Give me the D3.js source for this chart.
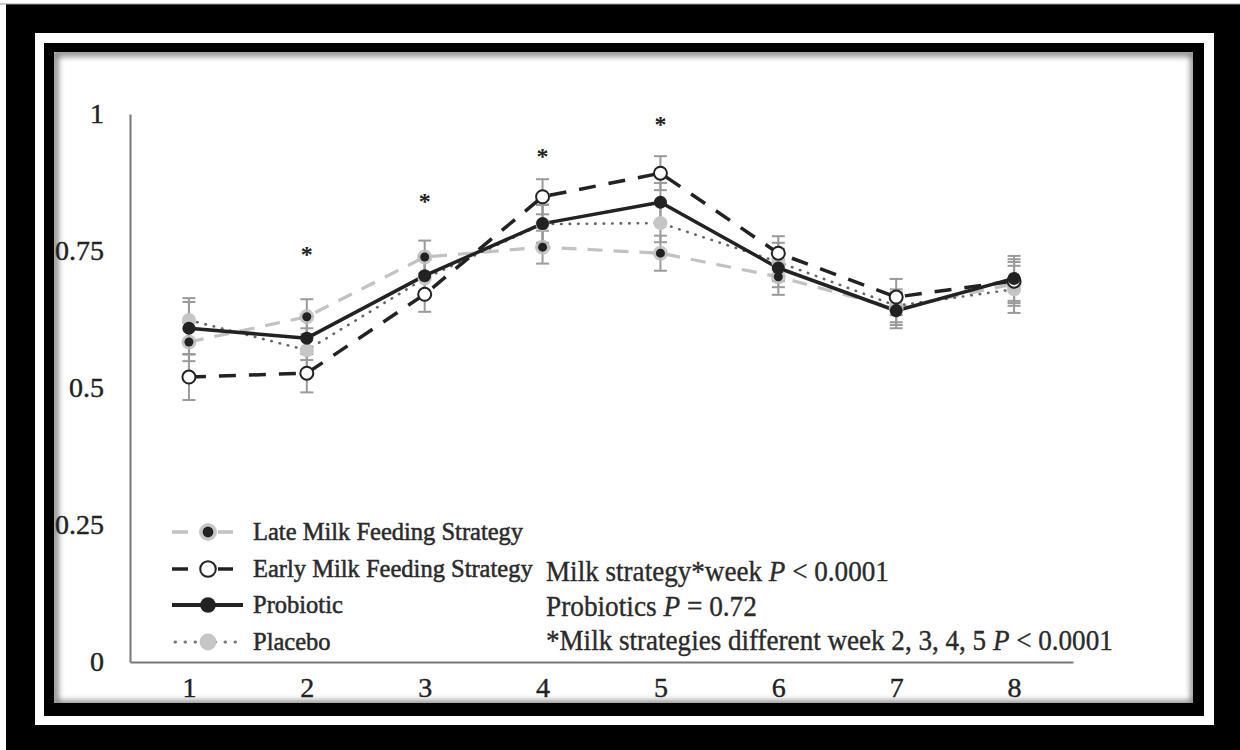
<!DOCTYPE html>
<html>
<head>
<meta charset="utf-8">
<script src="https://cdn.jsdelivr.net/npm/d3@7"></script>
<style>
  body { margin: 0; background: #fff; }
  text { font-family: "Liberation Serif", "Times New Roman", serif; }
</style>
</head>
<body>
<div id="chart"></div>
<script>
// datos
const weeks = [1, 2, 3, 4, 5, 6, 7, 8];
const lateMilk = [0.584, 0.630, 0.739, 0.757, 0.746, 0.703, 0.645, 0.690];
const earlyMilk = [0.520, 0.527, 0.671, 0.849, 0.892, 0.746, 0.666, 0.695];
const probiotic = [0.609, 0.591, 0.705, 0.800, 0.839, 0.719, 0.641, 0.700];
const placebo = [0.624, 0.569, 0.700, 0.799, 0.801, 0.730, 0.650, 0.680];

const lateErr = [0.035, 0.032, 0.030, 0.030, 0.032, 0.033, 0.030, 0.040];
const earlyErr = [0.042, 0.035, 0.032, 0.032, 0.031, 0.031, 0.033, 0.040];
const probErr = [0.048, 0.040, 0.035, 0.035, 0.035, 0.035, 0.032, 0.041];
const placErr = [0.040, 0.040, 0.035, 0.035, 0.035, 0.035, 0.030, 0.043];

const yTicks = [0, 0.25, 0.5, 0.75, 1];
const sigWeeks = [2, 3, 4, 5];
const sigLevel = [0.748, 0.845, 0.927, 0.985];

const legendNames = ["Late Milk Feeding Strategy", "Early Milk Feeding Strategy", "Probiotic", "Placebo"];
const notes = [
  ["Milk strategy*week ", "P", " < 0.0001"],
  ["Probiotics ", "P", " = 0.72"],
  ["*Milk strategies different week 2, 3, 4, 5 ", "P", " < 0.0001"]
];

const W = 1240, H = 750;

const svg = d3.select("#chart").append("svg")
  .attr("width", W).attr("height", H);

// ---------- marco ----------
const defs = svg.append("defs");
defs.append("clipPath").attr("id", "innerClip")
  .append("rect").attr("x", 54).attr("y", 52).attr("width", 1139).attr("height", 651);
defs.append("filter").attr("id", "blur").attr("x", "-10%").attr("y", "-10%")
  .attr("width", "120%").attr("height", "120%")
  .append("feGaussianBlur").attr("stdDeviation", 3);

svg.append("rect").attr("width", W).attr("height", H).attr("fill", "#fff");
svg.append("rect").attr("x", 6).attr("y", 4).attr("width", W - 6).attr("height", H - 4).attr("fill", "#000");
svg.append("line").attr("x1", 0).attr("x2", W).attr("y1", 4).attr("y2", 4).attr("stroke", "#999").attr("stroke-width", 1);
svg.append("rect").attr("x", 35).attr("y", 33).attr("width", 1179).attr("height", 692).attr("fill", "#fff");
svg.append("rect").attr("x", 44).attr("y", 43).attr("width", 1160).attr("height", 673).attr("fill", "#000");
svg.append("rect").attr("x", 54).attr("y", 52).attr("width", 1139).attr("height", 651).attr("fill", "#fff");
svg.append("g").attr("clip-path", "url(#innerClip)")
  .append("rect").attr("x", 55).attr("y", 53).attr("width", 1139).attr("height", 651)
  .attr("fill", "none").attr("stroke", "#000").attr("stroke-width", 6)
  .attr("opacity", 0.55).attr("filter", "url(#blur)");

// ---------- escalas ----------
const x = d3.scalePoint().domain(weeks).range([130, 1073]).padding(0.5);
const y = d3.scaleLinear().domain([0, 1]).range([662, 114]);

const yAxis = svg.append("g").attr("transform", "translate(130,0)")
  .call(d3.axisLeft(y).tickValues(yTicks).tickSize(0).tickPadding(26).tickFormat(d => String(d)));
const xAxis = svg.append("g").attr("transform", "translate(0,662)")
  .call(d3.axisBottom(x).tickSize(0).tickPadding(15));

[yAxis, xAxis].forEach(g => {
  g.attr("font-family", null);
  g.select(".domain").attr("stroke", "#777").attr("stroke-width", 2);
  g.selectAll("text").attr("font-size", 28).attr("fill", "#222")
    .attr("stroke", "#222").attr("stroke-width", 0.4);
});

// ---------- series ----------
const series = [
  { name: "late", vals: lateMilk, err: lateErr, color: "#c2c2c2", width: 3.2, dash: "15,11", cap: "butt" },
  { name: "placebo", vals: placebo, err: placErr, color: "#666", width: 2.6, dash: "0.5,8", cap: "round" },
  { name: "early", vals: earlyMilk, err: earlyErr, color: "#222", width: 3.5, dash: "17,13", cap: "butt" },
  { name: "probiotic", vals: probiotic, err: probErr, color: "#222", width: 3.5, dash: null, cap: "butt" }
];

// barras de error
const errG = svg.append("g").attr("stroke", "#9a9a9a").attr("stroke-width", 2);
series.forEach(s => {
  weeks.forEach((w, i) => {
    const cx = x(w), lo = y(s.vals[i] - s.err[i]), hi = y(s.vals[i] + s.err[i]);
    errG.append("line").attr("x1", cx).attr("x2", cx).attr("y1", lo).attr("y2", hi);
    errG.append("line").attr("x1", cx - 6.5).attr("x2", cx + 6.5).attr("y1", lo).attr("y2", lo);
    errG.append("line").attr("x1", cx - 6.5).attr("x2", cx + 6.5).attr("y1", hi).attr("y2", hi);
  });
});

const line = d3.line().x((d, i) => x(weeks[i])).y(d => y(d));
series.forEach(s => {
  svg.append("path").datum(s.vals)
    .attr("d", line)
    .attr("fill", "none")
    .attr("stroke", s.color)
    .attr("stroke-width", s.width)
    .attr("stroke-dasharray", s.dash)
    .attr("stroke-linecap", s.cap)
    .attr("stroke-linejoin", "round");
});

function marker(g, name, cx, cy, big) {
  const k = big ? 1.2 : 1;
  if (name === "late") {
    g.append("circle").attr("cx", cx).attr("cy", cy).attr("r", 7.5 * k).attr("fill", "#bdbdbd").attr("opacity", 0.85);
    g.append("circle").attr("cx", cx).attr("cy", cy).attr("r", 4.5 * k).attr("fill", "#222");
  } else if (name === "early") {
    g.append("circle").attr("cx", cx).attr("cy", cy).attr("r", 6.5 * k).attr("fill", "#fff")
      .attr("stroke", "#222").attr("stroke-width", 2);
  } else if (name === "probiotic") {
    g.append("circle").attr("cx", cx).attr("cy", cy).attr("r", 6.5 * k).attr("fill", "#222");
  } else {
    g.append("circle").attr("cx", cx).attr("cy", cy).attr("r", 7 * k).attr("fill", "#c6c6c6");
  }
}

const mk = svg.append("g");
["placebo", "late", "early", "probiotic"].forEach(n => {
  const s = series.find(d => d.name === n);
  weeks.forEach((w, i) => marker(mk, n, x(w), y(s.vals[i]), false));
});

// asteriscos
svg.append("g").selectAll("text").data(sigWeeks).enter().append("text")
  .attr("x", d => x(d))
  .attr("y", (d, i) => y(sigLevel[i]))
  .attr("dy", "0.42em")
  .attr("text-anchor", "middle")
  .attr("font-size", 24)
  .attr("font-weight", "bold")
  .attr("fill", "#222")
  .text("*");

// ---------- leyenda ----------
const legOrder = ["late", "early", "probiotic", "placebo"];
const legY = [532, 569, 605, 642];
const leg = svg.append("g");
legOrder.forEach((n, i) => {
  const s = series.find(d => d.name === n);
  const ly = legY[i];
  if (n === "placebo") {
    leg.append("line").attr("x1", 175).attr("x2", 243).attr("y1", ly).attr("y2", ly)
      .attr("stroke", "#777").attr("stroke-width", 3).attr("stroke-dasharray", "0.5,9.5")
      .attr("stroke-linecap", "round");
  } else if (n === "probiotic") {
    leg.append("line").attr("x1", 172).attr("x2", 243).attr("y1", ly).attr("y2", ly)
      .attr("stroke", s.color).attr("stroke-width", 4);
  } else {
    leg.append("line").attr("x1", 172).attr("x2", 188).attr("y1", ly).attr("y2", ly)
      .attr("stroke", s.color).attr("stroke-width", 3.5);
    leg.append("line").attr("x1", 218).attr("x2", 233).attr("y1", ly).attr("y2", ly)
      .attr("stroke", s.color).attr("stroke-width", 3.5);
  }
  marker(leg, n, 208, ly, true);
  leg.append("text").attr("x", 253).attr("y", ly).attr("dy", "0.33em")
    .attr("font-size", 24.5).attr("fill", "#2a2a2a")
    .attr("stroke", "#2a2a2a").attr("stroke-width", 0.5)
    .text(legendNames[i]);
});

// ---------- notas ----------
const noteY = [571, 606, 640];
const noteLen = [343, 211, 567];
notes.forEach((parts, i) => {
  const g = svg.append("g");
  const t = g.append("text").attr("x", 0).attr("y", 0).attr("dy", "0.35em")
    .attr("font-size", 29).attr("fill", "#2a2a2a")
    .attr("stroke", "#2a2a2a").attr("stroke-width", 0.35);
  parts.forEach((p, j) => {
    t.append("tspan").attr("font-style", j === 1 ? "italic" : null).text(p);
  });
  const k = noteLen[i] / t.node().getComputedTextLength();
  g.attr("transform", `translate(546,${noteY[i]}) scale(${k},1)`);
});
</script>
</body>
</html>
